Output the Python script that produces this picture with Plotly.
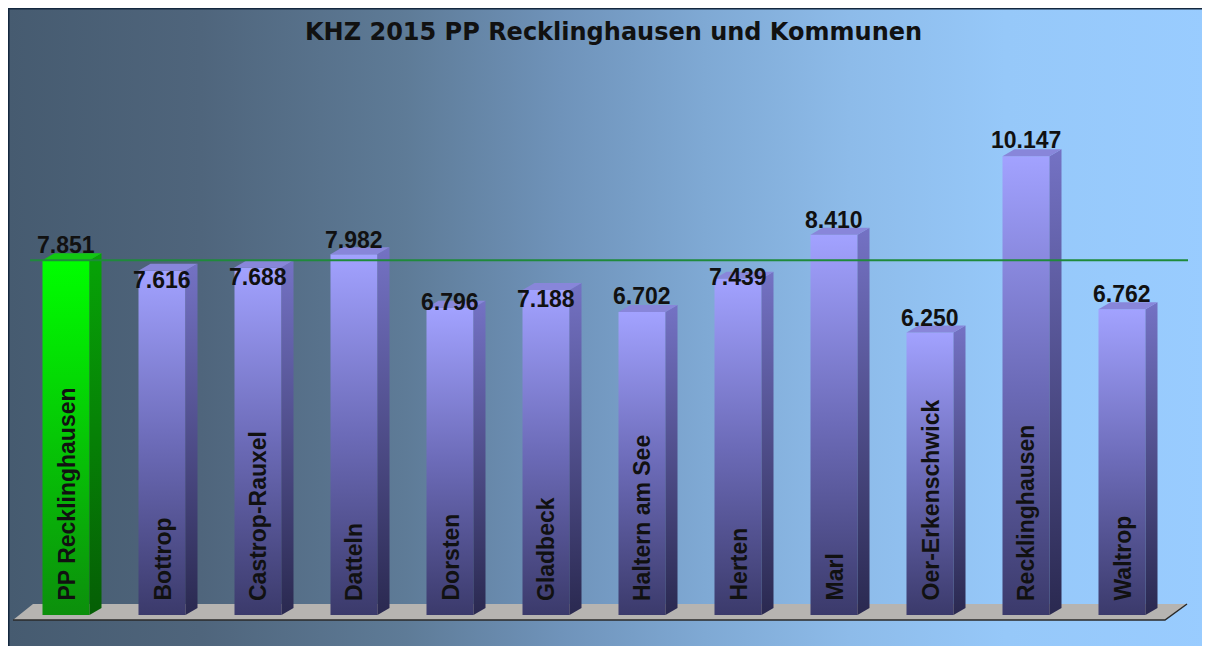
import base64
import plotly.graph_objects as go

# ---------------- data ----------------
categories = ["PP Recklinghausen", "Bottrop", "Castrop-Rauxel", "Datteln", "Dorsten",
              "Gladbeck", "Haltern am See", "Herten", "Marl", "Oer-Erkenschwick",
              "Recklinghausen", "Waltrop"]
values = [7851, 7616, 7688, 7982, 6796, 7188, 6702, 7439, 8410, 6250, 10147, 6762]
title_text = "KHZ 2015 PP Recklinghausen und Kommunen"

# label vertical offsets (px, style only; + means below bar top)
label_offsets = [-15, 9, 9, -14, -6, 9, -16, -2, -15, -15, -16, -15]

# ---------------- layout geometry ----------------
# the page places the figure at (8, 8) (body margin); geometry below is in page px
OFF = 8
W, H = 1210 - OFF, 646 - OFF
PLOT_L, PLOT_R, PLOT_T, PLOT_B = 8, 1194, 74, 625   # page px
ML, MR = PLOT_L - OFF, (OFF + W) - PLOT_R
MT, MB = PLOT_T - OFF, (OFF + H) - PLOT_B
PW, PH = W - ML - MR, H - MT - MB
C0, STEP = 66.0, 96.0         # page px of first category centre, px per category
BASE, K = 615.0, 45.2          # page px of value 0, px per 1000


def xd(px):
    return (px - C0) / STEP


def yd(py):
    return (BASE - py) / K * 1000.0


def xp(px):
    return (px - PLOT_L) / PW


def yp(py):
    return (PLOT_B - py) / PH


HW = 23.5 / STEP      # half front width
DX = 12.0 / STEP      # depth x
DY = 7.0 / K * 1000   # depth y

fig = go.Figure()

front_purple = [[0, "#3b3a6b"], [0.5, "#6c6bb8"], [1, "#a2a2ff"]]
side_purple = [[0, "#2a2950"], [1, "#7472c4"]]
top_purple = "#8886da"
front_green = [[0, "#0c8f0c"], [1, "#00ff00"]]
side_green = [[0, "#055e05"], [1, "#07a407"]]
top_green = "#12c812"

for i, v in enumerate(values):
    green = i == 0
    fcs = front_green if green else front_purple
    scs = side_green if green else side_purple
    tc = top_green if green else top_purple
    fig.add_trace(go.Scatter(
        x=[i - HW, i + HW, i + HW, i - HW, i - HW], y=[0, 0, v, v, 0],
        mode="lines", line=dict(width=0), fill="toself",
        fillgradient=dict(type="vertical", colorscale=fcs),
        hoverinfo="skip", showlegend=False))
    fig.add_trace(go.Scatter(
        x=[i + HW, i + HW + DX, i + HW + DX, i + HW, i + HW],
        y=[0, DY, v + DY, v, 0],
        mode="lines", line=dict(width=0), fill="toself",
        fillgradient=dict(type="vertical", colorscale=scs),
        hoverinfo="skip", showlegend=False))
    fig.add_trace(go.Scatter(
        x=[i - HW, i + HW, i + HW + DX, i - HW + DX, i - HW],
        y=[v, v, v + DY, v + DY, v],
        mode="lines", line=dict(width=0), fill="toself", fillcolor=tc,
        hoverinfo="skip", showlegend=False))

# value labels
for i, v in enumerate(values):
    fig.add_annotation(x=i, y=v, xref="x", yref="y",
                       text=f"{v:,}".replace(",", "."),
                       showarrow=False, yanchor="middle", xanchor="center",
                       yshift=-label_offsets[i],
                       font=dict(family="Liberation Sans, Arial", size=23,
                                 color="#111111", weight="bold"))

# category labels inside bars
for i, c in enumerate(categories):
    fig.add_annotation(x=i, y=0, xref="x", yref="y", text=c, textangle=-90,
                       showarrow=False, yanchor="bottom", xanchor="center",
                       yshift=12,
                       font=dict(family="Liberation Sans, Arial", size=23,
                                 color="#111111", weight="bold"))

# title
fig.add_annotation(x=xp(613), y=yp(32), xref="paper", yref="paper",
                   text=title_text, showarrow=False,
                   xanchor="center", yanchor="middle",
                   font=dict(family="DejaVu Sans", size=24, color="#111111",
                             weight="bold"))

# floor
fl = [(13, 620), (33, 604), (1187, 604), (1165, 620)]
floor_path = "M " + " L ".join(f"{xd(a)},{yd(b)}" for a, b in fl) + " Z"
fig.add_shape(type="path", path=floor_path, xref="x", yref="y",
              fillcolor="#b6b4b1", line=dict(width=0), layer="below")
edge = [(13, 620), (1165, 620), (1187, 604)]
fig.add_shape(type="path",
              path="M " + " L ".join(f"{xd(a)},{yd(b)}" for a, b in edge),
              xref="x", yref="y", line=dict(color="#2a2a2a", width=1.5),
              layer="below")

# reference line at PP value
fig.add_shape(type="line", xref="x", yref="y", x0=xd(30), x1=xd(1188),
              y0=values[0], y1=values[0],
              line=dict(color="#1f8a3b", width=2), layer="above")

# background gradient image covering the whole figure
stops = [(0, "#465b70"), (0.16, "#4f657c"), (0.33, "#5e7b97"), (0.46, "#6f93ba"),
         (0.58, "#7fa9d4"), (0.70, "#8dbbe9"), (0.83, "#96c8f9"), (1, "#99ccff")]
stop_xml = "".join(f'<stop offset="{o}" stop-color="{c}"/>' for o, c in stops)
svg = (f'<svg xmlns="http://www.w3.org/2000/svg" width="{W}" height="{H}" '
       f'viewBox="0 0 {W} {H}" preserveAspectRatio="none">'
       f'<defs><linearGradient id="g" x1="0" y1="0" x2="1" y2="0">{stop_xml}'
       f'</linearGradient></defs><rect x="0" y="0" width="{W}" height="{H}" fill="url(#g)"/></svg>')
src = "data:image/svg+xml;base64," + base64.b64encode(svg.encode()).decode()
fig.add_layout_image(source=src, xref="paper", yref="paper",
                     x=xp(OFF), y=yp(OFF), sizex=W / PW, sizey=H / PH,
                     xanchor="left", yanchor="top", sizing="stretch",
                     layer="below")

# dark border top / left
fig.add_shape(type="line", xref="paper", yref="paper", x0=xp(OFF), x1=xp(OFF + W),
              y0=yp(OFF + 0.5), y1=yp(OFF + 0.5), line=dict(color="#14283f", width=2))
fig.add_shape(type="line", xref="paper", yref="paper", x0=xp(OFF + 0.5), x1=xp(OFF + 0.5),
              y0=yp(OFF), y1=yp(OFF + H), line=dict(color="#14283f", width=2))

fig.update_xaxes(visible=False, range=[xd(PLOT_L), xd(PLOT_R)], fixedrange=True)
fig.update_yaxes(visible=False, range=[yd(PLOT_B), yd(PLOT_T)], fixedrange=True)
fig.update_layout(width=W, height=H,
                  margin=dict(l=ML, r=MR, t=MT, b=MB, autoexpand=False),
                  paper_bgcolor="#99ccff", plot_bgcolor="rgba(0,0,0,0)",
                  showlegend=False)

fig.write_html("out.html",
               post_script="document.documentElement.style.overflow='hidden';"
                           "document.body.style.overflow='hidden';")
